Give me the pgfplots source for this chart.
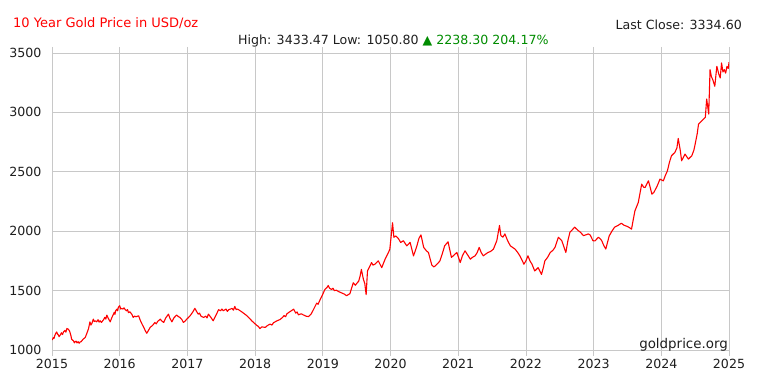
\documentclass[border=0pt]{standalone}
\usepackage{pgfplots}
\pgfplotsset{compat=1.18}
\usepackage{fontspec}
\setmainfont{DejaVu Sans}
\definecolor{gridc}{RGB}{200,200,200}
\definecolor{goldred}{RGB}{255,0,0}
\definecolor{upgreen}{RGB}{0,140,0}
\definecolor{txt}{RGB}{30,30,30}
\begin{document}
\begin{tikzpicture}[x=1bp,y=1bp]
\useasboundingbox (0,0) rectangle (767,391);
\begin{axis}[at={(52bp,41bp)}, anchor=south west, scale only axis,
  width=677bp, height=297bp,
  xmin=0, xmax=10, ymin=1000, ymax=3500,
  xtick={0,1,2,3,4,5,6,7,8,9,10},
  xticklabels={2015,2016,2017,2018,2019,2020,2021,2022,2023,2024,2025},
  ytick={1000,1500,2000,2500,3000,3500},
  yticklabels={1000,1500,2000,2500,3000,3500},
  grid=major, grid style={gridc, line width=0.8bp},
  axis line style={gridc, line width=0.8bp},
  tick style={gridc, line width=0.8bp},
  xtick align=outside, ytick align=outside,
  major tick length=6bp,
  ytick style={draw=none},
  tick label style={font=\fontsize{12.6bp}{14bp}\selectfont, text=txt},
  xticklabel style={yshift=0bp},
  yticklabel style={xshift=-1bp},
  clip=true,
]
\addplot[goldred, line width=1.1bp, line join=round] coordinates {
(0.00,1085)(0.01,1091)(0.02,1105)(0.03,1098)(0.04,1120)(0.055,1140)(0.07,1152)(0.08,1135)(0.09,1130)(0.105,1112)(0.12,1125)(0.14,1145)(0.155,1130)(0.17,1152)(0.19,1165)(0.205,1150)(0.22,1181)(0.24,1175)(0.26,1160)(0.28,1120)(0.29,1091)(0.32,1075)(0.33,1060)(0.34,1068)(0.355,1075)(0.37,1060)(0.385,1070)(0.40,1057)(0.415,1068)(0.43,1070)(0.46,1091)(0.49,1105)(0.51,1133)(0.54,1180)(0.56,1237)(0.575,1210)(0.59,1225)(0.61,1260)(0.625,1240)(0.64,1245)(0.66,1237)(0.68,1255)(0.695,1235)(0.71,1246)(0.73,1232)(0.76,1254)(0.78,1275)(0.795,1260)(0.81,1294)(0.83,1268)(0.86,1237)(0.875,1260)(0.89,1280)(0.92,1317)(0.93,1300)(0.94,1330)(0.96,1345)(0.97,1330)(0.98,1360)(1.00,1373)(1.015,1345)(1.03,1350)(1.05,1345)(1.065,1355)(1.08,1340)(1.10,1330)(1.115,1340)(1.13,1315)(1.15,1322)(1.18,1300)(1.20,1274)(1.22,1285)(1.24,1280)(1.28,1288)(1.30,1255)(1.33,1218)(1.36,1185)(1.38,1160)(1.40,1141)(1.42,1160)(1.45,1190)(1.49,1210)(1.52,1232)(1.54,1220)(1.56,1240)(1.60,1260)(1.62,1245)(1.65,1232)(1.68,1270)(1.72,1302)(1.74,1270)(1.77,1237)(1.80,1270)(1.84,1294)(1.87,1280)(1.89,1274)(1.92,1255)(1.94,1232)(1.97,1245)(1.99,1260)(2.01,1270)(2.04,1288)(2.08,1320)(2.11,1351)(2.14,1320)(2.16,1302)(2.18,1310)(2.20,1285)(2.24,1274)(2.27,1285)(2.29,1270)(2.31,1302)(2.34,1280)(2.38,1246)(2.42,1290)(2.46,1339)(2.49,1330)(2.51,1345)(2.53,1330)(2.57,1345)(2.59,1325)(2.61,1339)(2.66,1350)(2.68,1335)(2.70,1367)(2.72,1340)(2.74,1345)(2.78,1330)(2.83,1310)(2.88,1288)(2.92,1265)(2.95,1246)(3.00,1220)(3.03,1205)(3.05,1198)(3.07,1180)(3.10,1195)(3.15,1190)(3.18,1205)(3.22,1218)(3.25,1210)(3.27,1229)(3.32,1245)(3.37,1257)(3.39,1267)(3.43,1290)(3.45,1280)(3.47,1305)(3.52,1325)(3.57,1344)(3.60,1310)(3.62,1320)(3.64,1296)(3.68,1305)(3.71,1296)(3.75,1285)(3.79,1281)(3.83,1305)(3.86,1338)(3.91,1395)(3.93,1385)(3.96,1423)(4.00,1470)(4.03,1509)(4.06,1525)(4.08,1543)(4.10,1520)(4.13,1509)(4.15,1520)(4.17,1500)(4.20,1503)(4.24,1490)(4.28,1480)(4.32,1470)(4.35,1457)(4.40,1474)(4.45,1566)(4.48,1545)(4.50,1560)(4.53,1579)(4.55,1620)(4.57,1679)(4.60,1594)(4.62,1560)(4.64,1466)(4.66,1665)(4.69,1700)(4.72,1736)(4.74,1715)(4.77,1722)(4.82,1750)(4.87,1693)(4.92,1764)(4.97,1821)(4.99,1849)(5.01,1960)(5.03,2071)(5.05,1949)(5.08,1960)(5.12,1935)(5.15,1905)(5.19,1920)(5.24,1877)(5.29,1906)(5.34,1792)(5.39,1877)(5.42,1940)(5.45,1969)(5.49,1864)(5.53,1835)(5.56,1821)(5.61,1715)(5.64,1700)(5.66,1707)(5.70,1730)(5.73,1750)(5.77,1820)(5.80,1877)(5.85,1911)(5.90,1779)(5.94,1800)(5.98,1821)(6.03,1736)(6.06,1790)(6.10,1835)(6.14,1800)(6.18,1764)(6.21,1780)(6.25,1793)(6.28,1820)(6.31,1864)(6.34,1820)(6.37,1793)(6.40,1805)(6.44,1821)(6.48,1830)(6.52,1849)(6.57,1920)(6.61,2048)(6.63,1963)(6.66,1950)(6.69,1977)(6.73,1920)(6.77,1877)(6.80,1865)(6.84,1849)(6.88,1820)(6.91,1793)(6.94,1760)(6.97,1722)(7.00,1750)(7.03,1793)(7.06,1750)(7.09,1722)(7.13,1665)(7.18,1693)(7.23,1636)(7.26,1700)(7.28,1750)(7.32,1780)(7.36,1821)(7.40,1840)(7.43,1864)(7.48,1949)(7.53,1920)(7.56,1870)(7.59,1821)(7.62,1920)(7.65,1991)(7.69,2015)(7.72,2034)(7.77,2006)(7.80,1994)(7.85,1963)(7.89,1970)(7.92,1977)(7.95,1968)(7.99,1920)(8.02,1918)(8.07,1949)(8.10,1935)(8.12,1920)(8.15,1880)(8.18,1850)(8.23,1960)(8.27,2000)(8.31,2034)(8.36,2048)(8.41,2067)(8.45,2050)(8.49,2042)(8.53,2030)(8.56,2017)(8.58,2080)(8.61,2171)(8.66,2242)(8.71,2396)(8.74,2370)(8.76,2368)(8.81,2424)(8.84,2360)(8.86,2312)(8.89,2326)(8.94,2382)(8.98,2438)(9.03,2424)(9.06,2470)(9.09,2508)(9.12,2580)(9.15,2635)(9.20,2663)(9.23,2700)(9.25,2781)(9.28,2680)(9.30,2593)(9.35,2649)(9.40,2607)(9.45,2635)(9.48,2680)(9.50,2733)(9.53,2820)(9.55,2902)(9.60,2930)(9.65,2958)(9.67,3113)(9.70,2986)(9.72,3360)(9.74,3300)(9.76,3276)(9.79,3220)(9.82,3388)(9.85,3320)(9.87,3290)(9.89,3416)(9.91,3340)(9.93,3360)(9.95,3330)(9.97,3388)(9.99,3370)(10.00,3422)
};
\end{axis}
\node[anchor=base west, inner sep=0, text=goldred, font=\fontsize{13bp}{15bp}\selectfont] at (13,364) {10 Year Gold Price in USD/oz};
\node[anchor=base east, inner sep=0, text=txt, font=\fontsize{12.6bp}{15bp}\selectfont] at (742,362) {Last Close: 3334.60};
\node[anchor=base west, inner sep=0, font=\fontsize{12.6bp}{15bp}\selectfont] at (238,347) {\textcolor{txt}{High: 3433.47 Low: 1050.80} \textcolor{upgreen}{▲ 2238.30 204.17\%}};
\node[anchor=base east, inner sep=0, text=txt, font=\fontsize{13.4bp}{15bp}\selectfont] at (728,43) {goldprice.org};
\end{tikzpicture}
\end{document}
